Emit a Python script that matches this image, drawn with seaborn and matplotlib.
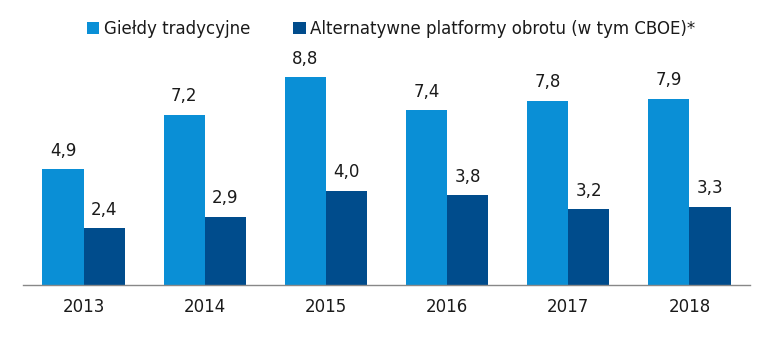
import matplotlib
matplotlib.use("Agg")
import matplotlib.pyplot as plt
import seaborn as sns
import pandas as pd

years = ["2013", "2014", "2015", "2016", "2017", "2018"]
series_names = ["Giełdy tradycyjne", "Alternatywne platformy obrotu (w tym CBOE)*"]
traditional = [4.9, 7.2, 8.8, 7.4, 7.8, 7.9]
alternative = [2.4, 2.9, 4.0, 3.8, 3.2, 3.3]
colors = ["#0A8FD6", "#004C8C"]

df = pd.DataFrame({
    "year": years * 2,
    "value": traditional + alternative,
    "series": [series_names[0]] * len(years) + [series_names[1]] * len(years),
})

sns.set_theme(style="white")
plt.rcParams["font.family"] = ["DejaVu Sans"]

fig = plt.figure(figsize=(7.74, 3.41), dpi=100)
ax = fig.add_axes([23 / 774, 56 / 341, 727 / 774, 236 / 341])
sns.barplot(data=df, x="year", y="value", hue="series", palette=colors,
            width=0.68, saturation=1, linewidth=0, ax=ax, legend=True)

for container in ax.containers:
    labels = [f"{v:.1f}".replace(".", ",") for v in container.datavalues]
    ax.bar_label(container, labels=labels, padding=7, fontsize=12, color="#1a1a1a")

ax.set_ylim(0, 10)
ax.set_xlim(-0.5, 5.5)
ax.set_xlabel("")
ax.set_ylabel("")
ax.set_yticks([])
ax.tick_params(axis="x", length=0, pad=9, labelsize=12, colors="#1a1a1a")
for s in ["top", "right", "left"]:
    ax.spines[s].set_visible(False)
ax.spines["bottom"].set_color("#888888")
ax.spines["bottom"].set_linewidth(1)

handles, lbls = ax.get_legend_handles_labels()
ax.legend(handles, lbls, loc="center", bbox_to_anchor=(368 / 727, (341 - 29 - 56) / 236),
          ncol=2, frameon=False, fontsize=12, handlelength=0.75, handleheight=0.75,
          handletextpad=0.25, columnspacing=2.6, labelcolor="#1a1a1a")

fig.savefig("out.png", dpi=100)
